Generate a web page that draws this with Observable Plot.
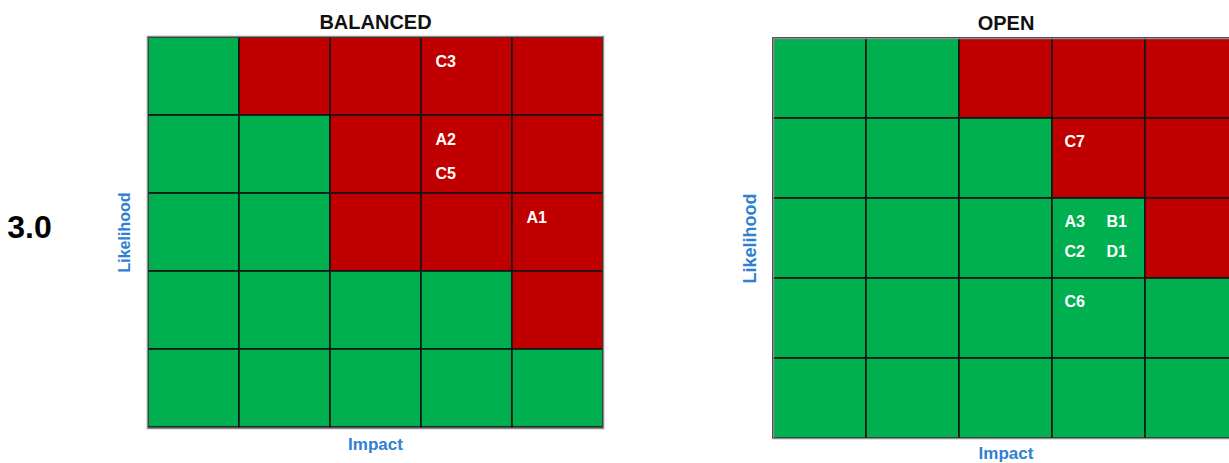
<!DOCTYPE html>
<html>
<head>
<meta charset="utf-8">
<script src="https://cdn.jsdelivr.net/npm/d3@7"></script>
<script src="https://cdn.jsdelivr.net/npm/@observablehq/plot@0.6"></script>
<style>
  html, body { margin: 0; padding: 0; background: #fff; overflow: hidden; }
  #wrap { position: relative; width: 1229px; height: 463px; overflow: hidden; }
  #wrap svg { position: absolute; top: 0; max-width: none !important; }
</style>
</head>
<body>
<div id="wrap"></div>
<script>
// ---- data ----
const impacts = [1, 2, 3, 4, 5];
const likelihoods = [5, 4, 3, 2, 1];          // top row to bottom row
const levelNames = ["low", "high"];
const levelColors = ["#00B050", "#C00000"];
const versionLabel = "3.0";

const balancedTitle = "BALANCED";
const balancedLevels = [
  ["low", "high", "high", "high", "high"],   // likelihood 5
  ["low", "low",  "high", "high", "high"],   // likelihood 4
  ["low", "low",  "high", "high", "high"],   // likelihood 3
  ["low", "low",  "low",  "low",  "high"],   // likelihood 2
  ["low", "low",  "low",  "low",  "low"]     // likelihood 1
];
const balancedRisks = [
  {id: "C3", impact: 4, likelihood: 5},
  {id: "A2", impact: 4, likelihood: 4},
  {id: "C5", impact: 4, likelihood: 4},
  {id: "A1", impact: 5, likelihood: 3}
];

const openTitle = "OPEN";
const openLevels = [
  ["low", "low", "high", "high", "high"],
  ["low", "low", "low",  "high", "high"],
  ["low", "low", "low",  "low",  "high"],
  ["low", "low", "low",  "low",  "low"],
  ["low", "low", "low",  "low",  "low"]
];
const openRisks = [
  {id: "C7", impact: 4, likelihood: 4},
  {id: "A3", impact: 4, likelihood: 3},
  {id: "B1", impact: 4, likelihood: 3},
  {id: "C2", impact: 4, likelihood: 3},
  {id: "D1", impact: 4, likelihood: 3},
  {id: "C6", impact: 4, likelihood: 2}
];

const xLabel = "Impact";
const yLabel = "Likelihood";

// ---- helpers ----
const FONT = "'Liberation Sans', Arial, sans-serif";
const BLUE = "#2f80d2";

function toCells(levels) {
  return levels.flatMap((row, i) => row.map((level, j) => ({
    impact: impacts[j], likelihood: likelihoods[i], level
  })));
}

function withSlots(risks) {
  const groups = d3.group(risks, d => d.impact + "-" + d.likelihood);
  return risks.map(d => {
    const g = groups.get(d.impact + "-" + d.likelihood);
    const k = g.indexOf(d);
    const ncols = g.length > 2 ? 2 : 1;
    return {...d, col: k % ncols, row: Math.floor(k / ncols)};
  });
}

function panel(o) {
  const H = 463;
  const bw = (o.width - o.mL - o.mR) / impacts.length;
  const bh = (H - o.mT - o.mB) / likelihoods.length;
  const risks = withSlots(o.risks);
  const slots = Array.from(new Set(risks.map(d => d.col + "," + d.row)));
  const labelMarks = slots.map(s => {
    const [c, r] = s.split(",").map(Number);
    return Plot.text(risks.filter(d => d.col === c && d.row === r), {
      x: "impact", y: "likelihood", text: "id",
      dx: -bw / 2 + o.padX + c * o.colGap,
      dy: -bh / 2 + o.base + r * o.rowGap,
      textAnchor: "start", lineAnchor: "bottom",
      fill: "white", fontWeight: "bold", fontSize: 16
    });
  });
  const extra = o.extra || [];
  const svg = Plot.plot({
    width: o.width, height: H,
    marginLeft: o.mL, marginRight: o.mR, marginTop: o.mT, marginBottom: o.mB,
    style: {fontFamily: FONT, background: "transparent", overflow: "visible"},
    x: {type: "band", domain: impacts, padding: 0, axis: null},
    y: {type: "band", domain: likelihoods, padding: 0, axis: null},
    color: {domain: levelNames, range: levelColors},
    marks: [
      Plot.cell(toCells(o.levels), {
        x: "impact", y: "likelihood", fill: "level",
        stroke: "#141414", strokeWidth: 1.6, inset: 0
      }),
      Plot.frame({stroke: "#8c8c8c", strokeWidth: 1.5}),
      ...labelMarks,
      Plot.text([o.title], {
        text: d => d, frameAnchor: "top", dy: o.titleDy,
        lineAnchor: "bottom", textAnchor: "middle",
        fontSize: 20, fontWeight: "bold", fill: "#111"
      }),
      Plot.text([xLabel], {
        text: d => d, frameAnchor: "bottom", dy: o.xLabelDy,
        lineAnchor: "bottom", textAnchor: "middle",
        fontSize: o.labelSize, fontWeight: "bold", fill: BLUE
      }),
      Plot.text([yLabel], {
        text: d => d, frameAnchor: "left", dx: -23, rotate: -90,
        lineAnchor: "middle", textAnchor: "middle",
        fontSize: o.yLabelSize, fontWeight: "bold", fill: BLUE
      }),
      ...extra
    ]
  });
  svg.style.left = o.left + "px";
  return svg;
}

const wrap = document.getElementById("wrap");

wrap.appendChild(panel({
  title: balancedTitle, levels: balancedLevels, risks: balancedRisks,
  left: 0, width: 615, mL: 147, mR: 12, mT: 36, mB: 35,
  padX: 14, base: 30, rowGap: 34, colGap: 42,
  titleDy: -8, xLabelDy: 21, labelSize: 17, yLabelSize: 16,
  extra: [
    Plot.text([versionLabel], {
      text: d => d, frameAnchor: "left", dx: -118, dy: 5,
      textAnchor: "middle", lineAnchor: "bottom",
      fontSize: 32, fontWeight: "bold", fill: "#000"
    })
  ]
}));

wrap.appendChild(panel({
  title: openTitle, levels: openLevels, risks: openRisks,
  left: 620, width: 618, mL: 153, mR: 0, mT: 38, mB: 25,
  padX: 12, base: 28, rowGap: 30, colGap: 42,
  titleDy: -9, xLabelDy: 20, labelSize: 17, yLabelSize: 18
}));
</script>
</body>
</html>
